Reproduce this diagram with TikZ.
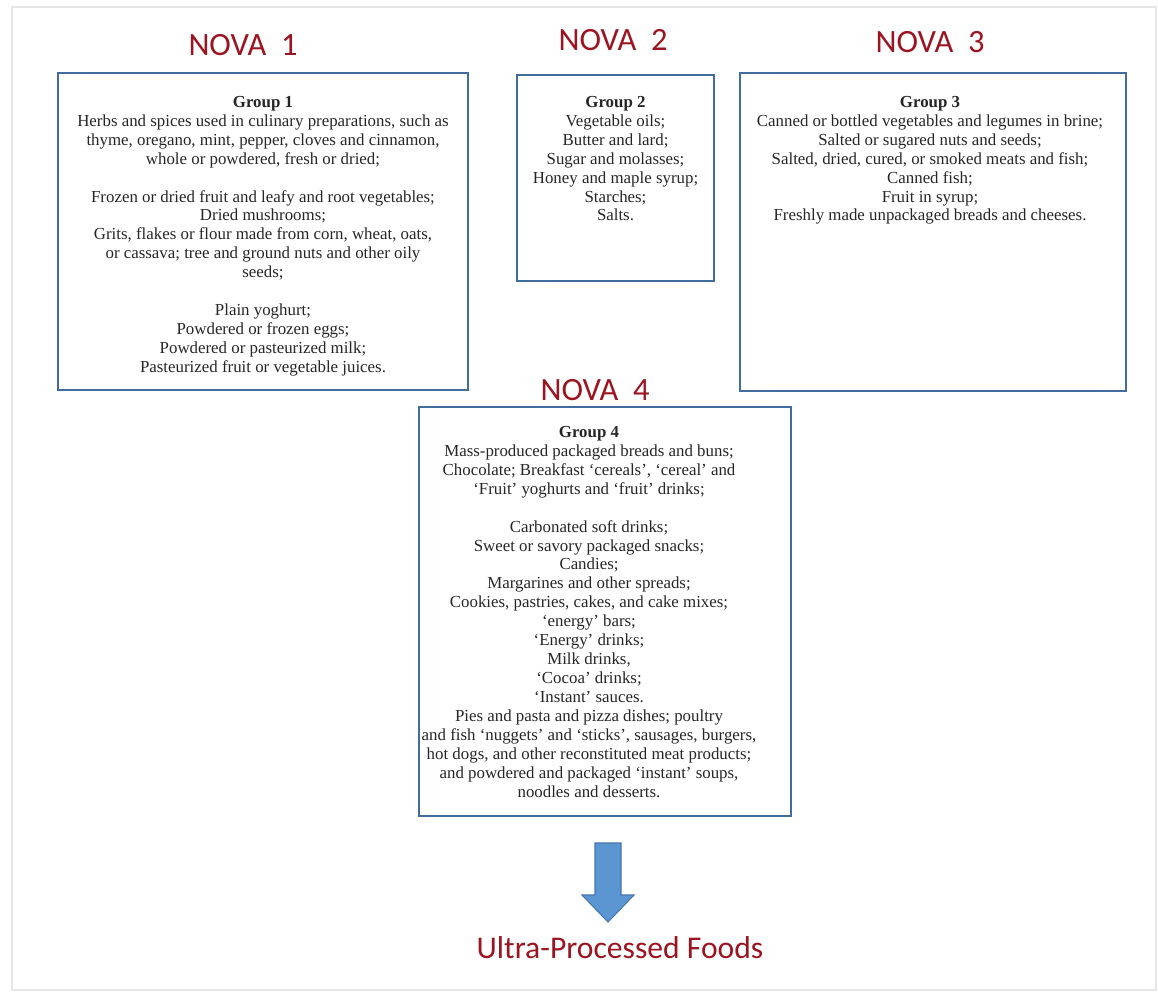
\documentclass[tikz,border=0pt]{standalone}
\usepackage{fontspec}
\setmainfont{Liberation Serif}
\newfontfamily\headfont{Carlito}
\usetikzlibrary{positioning}
\definecolor{novared}{RGB}{155,20,32}
\definecolor{boxblue}{RGB}{64,108,158}
\definecolor{arrowblue}{RGB}{92,150,210}
\definecolor{arrowedge}{RGB}{68,118,176}
\tikzset{
  grpbox/.style={rectangle, draw=boxblue, line width=1.6pt, inner sep=0pt},
  grptext/.style={align=center, inner sep=0pt, text=black!85,
    font=\fontsize{9.6}{10.8}\selectfont},
  novahead/.style={text=novared, font=\headfont\fontsize{18.5}{21}\selectfont},
  blockarrow/.style={fill=arrowblue, draw=arrowedge, line width=0.6pt, line join=miter},
}

\begin{document}
\begin{tikzpicture}[x=0.02cm, y=-0.02cm]
  \useasboundingbox (0,0) rectangle (1158,994);
  % faint page frame
  \draw[black!10, line width=0.8pt] (12,7) rectangle (1156,990);

  % the four group boxes
  \node[grpbox, minimum width=8.2cm, minimum height=6.34cm] (g1) at (263,231.5) {};
  \node[grpbox, minimum width=3.94cm, minimum height=4.12cm] (g2) at (615.5,178) {};
  \node[grpbox, minimum width=7.72cm, minimum height=6.36cm] (g3) at (933,232) {};
  \node[grpbox, minimum width=7.44cm, minimum height=8.18cm] (g4) at (605,611.5) {};

  % headings
  \node[novahead] (nova1) at (243,45) {NOVA\ \ 1};
  \node[novahead] (nova2) at (613,40) {NOVA\ \ 2};
  \node[novahead] (nova3) at (930,42) {NOVA\ \ 3};
  \node[novahead] (nova4) at (595,390) {NOVA\ \ 4};

  % group contents
  \node[grptext, below=0.48cm of g1.north] (t1) {\textbf{Group 1}\\
    Herbs and spices used in culinary preparations, such as\\
    thyme, oregano, mint, pepper, cloves and cinnamon,\\
    whole or powdered, fresh or dried;\\[10.8pt]
    Frozen or dried fruit and leafy and root vegetables;\\
    Dried mushrooms;\\
    Grits, flakes or flour made from corn, wheat, oats,\\
    or cassava; tree and ground nuts and other oily\\
    seeds;\\[10.8pt]
    Plain yoghurt;\\
    Powdered or frozen eggs;\\
    Powdered or pasteurized milk;\\
    Pasteurized fruit or vegetable juices.};
  \node[grptext, below=0.44cm of g2.north] (t2) {\textbf{Group 2}\\
    Vegetable oils;\\
    Butter and lard;\\
    Sugar and molasses;\\
    Honey and maple syrup;\\
    Starches;\\
    Salts.};
  \node[grptext, below=0.48cm of g3.north, xshift=-0.06cm] (t3) {\textbf{Group 3}\\
    Canned or bottled vegetables and legumes in brine;\\
    Salted or sugared nuts and seeds;\\
    Salted, dried, cured, or smoked meats and fish;\\
    Canned fish;\\
    Fruit in syrup;\\
    Freshly made unpackaged breads and cheeses.};
  \node[grptext, below=0.4cm of g4.north, xshift=-0.32cm] (t4) {\textbf{Group 4}\\
    Mass-produced packaged breads and buns;\\
    Chocolate; Breakfast ‘cereals’, ‘cereal’ and\\
    ‘Fruit’ yoghurts and ‘fruit’ drinks;\\[10.8pt]
    Carbonated soft drinks;\\
    Sweet or savory packaged snacks;\\
    Candies;\\
    Margarines and other spreads;\\
    Cookies, pastries, cakes, and cake mixes;\\
    ‘energy’ bars;\\
    ‘Energy’ drinks;\\
    Milk drinks,\\
    ‘Cocoa’ drinks;\\
    ‘Instant’ sauces.\\
    Pies and pasta and pizza dishes; poultry\\
    and fish ‘nuggets’ and ‘sticks’, sausages, burgers,\\
    hot dogs, and other reconstituted meat products;\\
    and powdered and packaged ‘instant’ soups,\\
    noodles and desserts.};

  % outcome
  \node[novahead, font=\headfont\fontsize{18}{21}\selectfont] (upf) at (620,948) {Ultra-Processed Foods};
  \coordinate (arrtop) at (608,843);
  \coordinate (arrtip) at (608,922);
  \draw[blockarrow] (arrtop) ++(-13,0) -- ++(26,0) -- ++(0,52) -- ++(13,0)
    -- (arrtip) -- ++(-26,-27) -- ++(13,0) -- cycle;
\end{tikzpicture}
\end{document}
